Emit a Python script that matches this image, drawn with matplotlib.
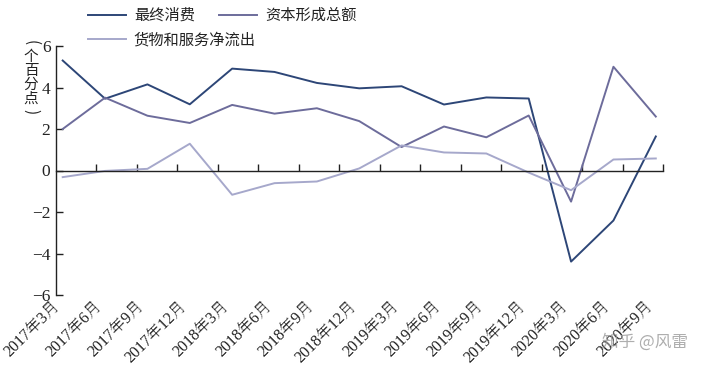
import numpy as np
import matplotlib
matplotlib.use('Agg')
import matplotlib.pyplot as plt
import matplotlib.transforms as mtransforms

plt.rcParams['font.family'] = ['Liberation Serif', 'Noto Serif SC', 'DejaVu Sans']
plt.rcParams['axes.unicode_minus'] = True

# quarters and contributions (percentage points)
quarters = ['2017年3月', '2017年6月', '2017年9月', '2017年12月',
            '2018年3月', '2018年6月', '2018年9月', '2018年12月',
            '2019年3月', '2019年6月', '2019年9月', '2019年12月',
            '2020年3月', '2020年6月', '2020年9月']
consumption = [5.3, 3.46, 4.15, 3.19, 4.91, 4.75, 4.22, 3.96,
               4.06, 3.18, 3.52, 3.47, -4.39, -2.41, 1.64]
capital = [2.0, 3.51, 2.64, 2.29, 3.16, 2.74, 3.0, 2.38,
           1.13, 2.12, 1.6, 2.65, -1.5, 5.0, 2.6]
net_exports = [-0.32, -0.02, 0.08, 1.29, -1.17, -0.61, -0.53, 0.1,
               1.21, 0.87, 0.82, -0.1, -0.95, 0.53, 0.58]
series_names = ['最终消费', '资本形成总额', '货物和服务净流出']
colors = ['#2d4677', '#6d6c9b', '#a6a8cb']

fig = plt.figure(figsize=(7.2, 3.68), dpi=100)
ax = fig.add_axes([56/720, 1-295/368, (663-56)/720, (295-46)/368])

x = np.arange(len(quarters))
l1, = ax.plot(x, consumption, color=colors[0], lw=1.4)
l2, = ax.plot(x, capital, color=colors[1], lw=1.4)
l3, = ax.plot(x, net_exports, color=colors[2], lw=1.4)

left = -0.158
right = 14.17
ax.set_xlim(left, right)
ax.set_ylim(-6, 6)

for s in ['top', 'right']:
    ax.spines[s].set_visible(False)
ax.spines['bottom'].set_position(('data', 0))
for s in ['left', 'bottom']:
    ax.spines[s].set_color('#222222')
    ax.spines[s].set_linewidth(1.0)

step = (right - left) / len(quarters)
ax.set_xticks([left + step * (k + 1) for k in range(len(quarters))])
ax.tick_params(axis='x', direction='in', length=5, width=1.0, color='#222222', labelbottom=False)
ax.set_yticks(np.arange(-6, 7, 2))
ax.tick_params(axis='y', direction='in', length=5, width=1.0, color='#222222',
               labelsize=12.5, pad=4, labelcolor='#222222')

# rotated quarter labels under the plot
trans = mtransforms.blended_transform_factory(ax.transData, ax.transAxes)
for i, q in enumerate(quarters):
    ax.text(i, -0.012, q, transform=trans, rotation=45, ha='right', va='top',
            fontsize=11.5, color='#222222')

# vertical unit label: upright characters, parentheses turned sideways
cjk = ['Noto Sans CJK SC', 'DejaVu Sans']
fig.text(31/720, 1-43/368, '(', rotation=-90, ha='center', va='center',
         fontsize=11, color='#222222', family=cjk)
fig.text(31/720, 1-78/368, '个\n百\n分\n点', ha='center', va='center',
         fontsize=10.5, linespacing=1.0, color='#222222', family=cjk)
fig.text(31/720, 1-112/368, ')', rotation=-90, ha='center', va='center',
         fontsize=11, color='#222222', family=cjk)

leg1 = fig.legend([l1, l2], series_names[:2], loc='upper left', ncol=2,
                  bbox_to_anchor=(88/720, 1-7/368), frameon=False,
                  prop={'family': cjk, 'size': 11},
                  handlelength=2.5, handletextpad=0.5, columnspacing=1.6,
                  borderpad=0, borderaxespad=0)
leg2 = fig.legend([l3], series_names[2:], loc='upper left',
                  bbox_to_anchor=(88/720, 1-31/368), frameon=False,
                  prop={'family': cjk, 'size': 11},
                  handlelength=2.5, handletextpad=0.5, borderpad=0, borderaxespad=0)
for leg in (leg1, leg2):
    for t in leg.get_texts():
        t.set_color('#222222')

fig.text(645/720, 1-342/368, '知乎 @风雷', ha='center', va='center', fontsize=12,
         color='#9a9a9a', alpha=0.8, family=cjk)

fig.savefig('out.png', dpi=100, facecolor='white')
